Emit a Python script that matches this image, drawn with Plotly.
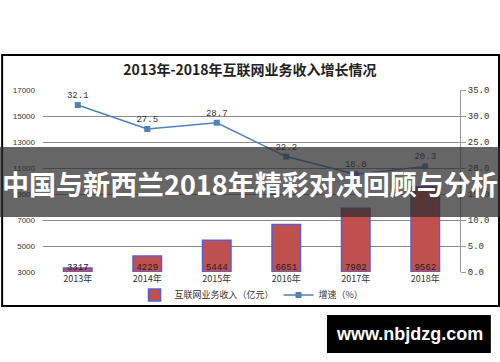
import plotly.graph_objects as go

years = ["2013年", "2014年", "2015年", "2016年", "2017年", "2018年"]
revenue = [3317, 4229, 5444, 6651, 7902, 9562]
growth = [32.1, 27.5, 28.7, 22.2, 18.8, 20.3]
left_ticks = [3000, 5000, 7000, 9000, 11000, 13000, 15000, 17000]
right_ticks = [0, 5, 10, 15, 20, 25, 30, 35]

CJK = "Noto Sans CJK SC"

fig = go.Figure()
fig.add_trace(go.Bar(
    x=years, y=[v - 3000 for v in revenue], base=3000, width=0.41,
    marker=dict(color="#C0504D", line=dict(color="#5B5BD6", width=1.5)),
    name="互联网业务收入（亿元）", yaxis="y",
))
fig.add_trace(go.Scatter(
    x=years, y=[3000] * len(years), mode="text", text=[str(v) for v in revenue],
    textposition="top center", textfont=dict(size=9, color="#222", family="Liberation Mono"),
    showlegend=False, yaxis="y", hoverinfo="skip",
))
fig.add_trace(go.Scatter(
    x=years, y=growth, mode="lines+markers+text", yaxis="y2",
    text=[f"{v:.1f}" for v in growth], textposition="top center",
    textfont=dict(size=9, color="#333", family="Liberation Mono"),
    line=dict(color="#4F81BD", width=1.5),
    marker=dict(symbol="square", size=6, color="#4F81BD"),
    name="增速（%）",
))

fig.update_layout(
    width=500, height=362,
    margin=dict(l=43, r=40, t=90, b=90, autoexpand=False),
    paper_bgcolor="white", plot_bgcolor="white",
    title=dict(text="<b>2013年-2018年互联网业务收入增长情况</b>", x=0.5, xanchor="center",
               y=1 - 70 / 362, yanchor="middle",
               font=dict(family=CJK, size=14, color="#222")),
    xaxis=dict(range=[-0.5, 5.5], showgrid=False, showline=False, ticks="",
               tickfont=dict(size=9, color="#333", family=CJK)),
    yaxis=dict(range=[3000, 17000], tickvals=left_ticks, tickformat="d", showgrid=True,
               gridcolor="#8a8a8a", gridwidth=1, zeroline=False, showline=False, ticks="",
               ticklabelstandoff=7,
               tickfont=dict(size=8, color="#333", family="Liberation Sans")),
    yaxis2=dict(range=[0, 35], tickvals=right_ticks, ticktext=[f"{v:.1f}" for v in right_ticks],
                overlaying="y", side="right", showgrid=False, zeroline=False,
                showline=True, linecolor="#999", ticks="outside", ticklen=5, tickcolor="#999",
                tickfont=dict(size=9, color="#333", family="Liberation Mono")),
    legend=dict(orientation="h", x=0.5, xanchor="center", y=-0.126, yanchor="middle",
                font=dict(size=9, color="#333", family=CJK), bgcolor="rgba(0,0,0,0)"),
    showlegend=True,
)

fig.add_shape(type="rect", xref="paper", yref="paper", x0=-0.098, x1=1.0935, y0=-0.187, y1=1.192,
              line=dict(color="black", width=2), layer="below")
fig.add_shape(type="rect", xref="paper", yref="paper", x0=-0.2, x1=1.3, y0=0.302, y1=0.687,
              fillcolor="rgba(45,45,45,0.73)", line=dict(width=0), layer="above")
fig.add_annotation(xref="paper", yref="paper", x=0.496, y=0.489, xanchor="center", yanchor="middle",
                   showarrow=False, text="<b>中国与新西兰2018年精彩对决回顾与分析</b>",
                   font=dict(family=CJK, size=27, color="white"))
fig.add_shape(type="rect", xref="paper", yref="paper", x0=0.681, x1=1.074, y0=-0.445, y1=-0.236,
              fillcolor="black", line=dict(width=0), layer="above")
fig.add_annotation(xref="paper", yref="paper", x=0.878, y=-0.341, xanchor="center", yanchor="middle",
                   showarrow=False, text="<b>www.nbjdzg.com</b>",
                   font=dict(family="Liberation Sans", size=18, color="white"))

fig.write_html("out.html", config={"displayModeBar": False},
               post_script="document.body.style.margin='0';document.body.style.overflow='hidden';")
